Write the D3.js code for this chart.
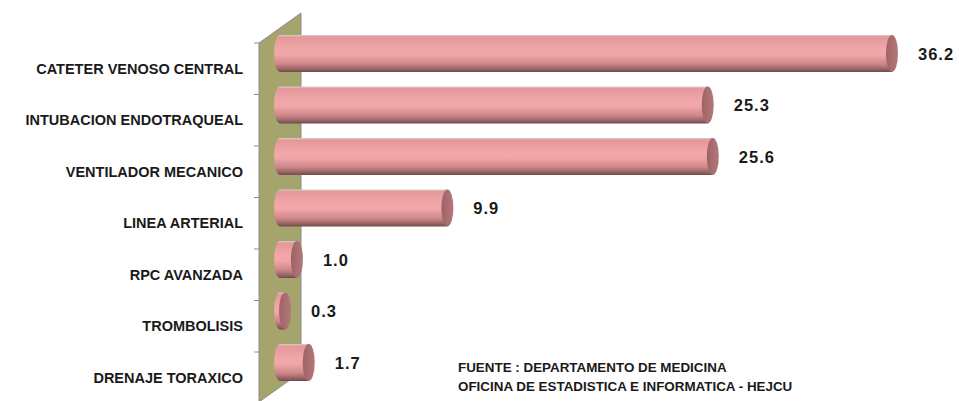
<!DOCTYPE html>
<html>
<head>
<meta charset="utf-8">
<script src="https://cdn.jsdelivr.net/npm/d3@7"></script>
<style>
  body { margin: 0; background: #fff; }
  svg { display: block; }
  .cat { font-family: "Liberation Sans", Arial, sans-serif; font-weight: bold; font-size: 14.5px; fill: #1a1a1a; }
  .val { font-family: "Liberation Sans", Arial, sans-serif; font-weight: bold; font-size: 16.5px; letter-spacing: 1px; fill: #1a1a1a; }
  .note { font-family: "Liberation Sans", Arial, sans-serif; font-weight: bold; font-size: 13.4px; fill: #1a1a1a; }
</style>
</head>
<body>
<script>
const categories = [
  "CATETER VENOSO CENTRAL",
  "INTUBACION ENDOTRAQUEAL",
  "VENTILADOR MECANICO",
  "LINEA ARTERIAL",
  "RPC AVANZADA",
  "TROMBOLISIS",
  "DRENAJE TORAXICO"
];
const values = [36.2, 25.3, 25.6, 9.9, 1.0, 0.3, 1.7];
const valueLabels = ["36.2", "25.3", "25.6", "9.9", "1.0", "0.3", "1.7"];
const sourceNote = [
  "FUENTE : DEPARTAMENTO DE MEDICINA",
  "OFICINA DE ESTADISTICA E INFORMATICA - HEJCU"
];

const width = 959, height = 401;
const depthX = 42, depthY = 30;   // 3d offset of the back wall

const svg = d3.select("body").append("svg")
  .attr("width", width)
  .attr("height", height);

const y = d3.scaleBand()
  .domain(categories)
  .range([43, 403.5])
  .padding(0);

const x = d3.scaleLinear()
  .domain([0, 36.2])
  .range([280, 892]);

// gradients for the cylinders
const defs = svg.append("defs");
const bodyGrad = defs.append("linearGradient")
  .attr("id", "barBody")
  .attr("x1", 0).attr("y1", 0).attr("x2", 0).attr("y2", 1);
[
  [0, "#d8cfcf"], [0.06, "#e39799"], [0.4, "#f2a8aa"], [0.55, "#f0a5a7"],
  [0.78, "#cf8789"], [0.92, "#9a6465"], [1, "#6e4a4b"]
].forEach(d => bodyGrad.append("stop").attr("offset", d[0]).attr("stop-color", d[1]));

const capGrad = defs.append("linearGradient")
  .attr("id", "barCap")
  .attr("x1", 0).attr("y1", 0).attr("x2", 1).attr("y2", 0);
[[0, "#9c6264"], [0.5, "#aa6e70"], [1, "#b47779"]]
  .forEach(d => capGrad.append("stop").attr("offset", d[0]).attr("stop-color", d[1]));

// back wall (the flat axis wall in perspective)
const wallLeft = 259;
const wallTop = y.range()[0], wallBottom = 402;
svg.append("path")
  .attr("d", `M${wallLeft},${wallTop} L${wallLeft + depthX},${wallTop - depthY}
              L${wallLeft + depthX},${wallBottom - depthY} L${wallLeft},${wallBottom} Z`)
  .attr("fill", "#a5a46c")
  .attr("stroke", "#8c8c8c")
  .attr("stroke-width", 1);

// axis ticks on the wall's front edge
const tickYs = categories.map(c => y(c)).concat([y.range()[1]]);
svg.append("g")
  .selectAll("line")
  .data(tickYs).enter()
  .append("line")
  .attr("x1", wallLeft - 5)
  .attr("x2", wallLeft)
  .attr("y1", d => d)
  .attr("y2", d => d)
  .attr("stroke", "#8c8c8c");

// category labels
svg.append("g")
  .selectAll("text")
  .data(categories).enter()
  .append("text")
  .attr("class", "cat")
  .attr("x", 243)
  .attr("y", d => y(d) + y.bandwidth() / 2 + 1)
  .attr("text-anchor", "end")
  .attr("dominant-baseline", "middle")
  .text(d => d);

// cylinders
const barH = y.bandwidth() * 0.72;
const rx = 6;
const barCenter = (i) => y(categories[i]) + y.bandwidth() / 2 - 15.3;

const bars = svg.append("g")
  .selectAll("g")
  .data(values).enter()
  .append("g");

bars.append("path")
  .attr("d", (d, i) => {
    const cy = barCenter(i), ry = barH / 2;
    const x0 = x(0), x1 = x(d);
    return `M${x1},${cy - ry} L${x0},${cy - ry}
            A${rx},${ry} 0 0 0 ${x0},${cy + ry}
            L${x1},${cy + ry} Z`;
  })
  .attr("fill", "url(#barBody)");

bars.append("ellipse")
  .attr("cx", d => x(d))
  .attr("cy", (d, i) => barCenter(i))
  .attr("rx", rx)
  .attr("ry", barH / 2)
  .attr("fill", "url(#barCap)");

// value labels
svg.append("g")
  .selectAll("text")
  .data(values).enter()
  .append("text")
  .attr("class", "val")
  .attr("x", d => x(d) + rx + 20)
  .attr("y", (d, i) => barCenter(i) + 2)
  .attr("dominant-baseline", "middle")
  .text((d, i) => valueLabels[i]);

// source note
svg.append("g")
  .selectAll("text")
  .data(sourceNote).enter()
  .append("text")
  .attr("class", "note")
  .attr("x", 458)
  .attr("y", (d, i) => 372 + i * 19)
  .text(d => d);
</script>
</body>
</html>
